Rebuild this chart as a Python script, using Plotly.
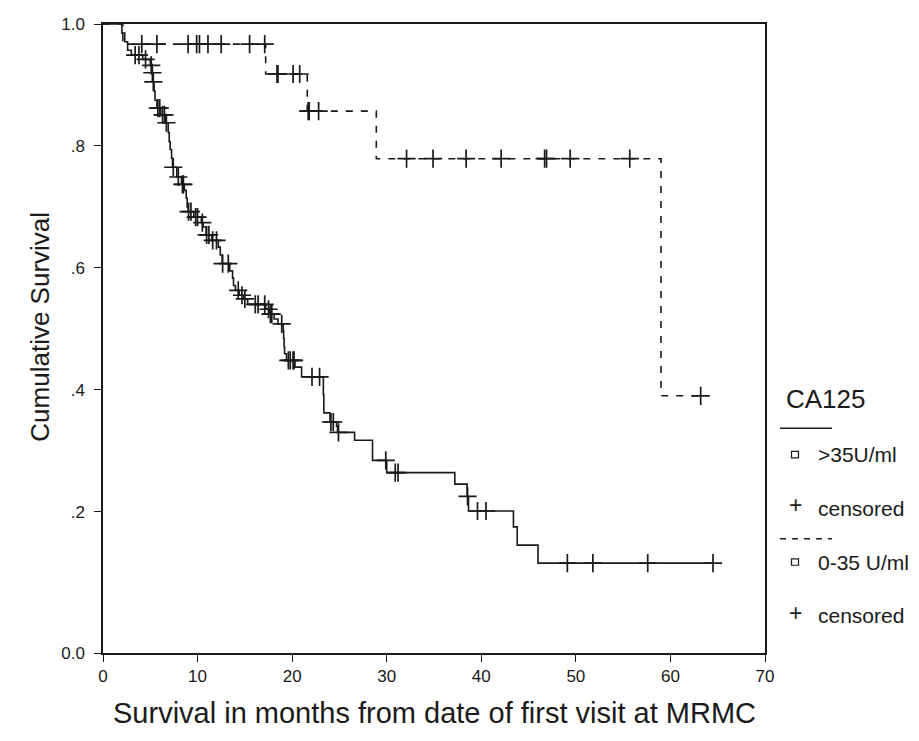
import plotly.graph_objects as go
import bisect

# ---------------- data ----------------
# Group CA125 > 35 U/ml (solid line): event times (months) and survival after each event
hi_event_t = [2.0, 2.3, 2.6, 3.0, 4.2, 5.0, 5.2, 5.3, 5.4, 5.5, 5.7, 6.1, 6.6, 6.9, 7.0, 7.1,
              7.25, 7.35, 7.8, 8.3, 8.6, 8.8, 8.9, 9.0, 9.6, 10.4, 10.6, 10.9, 11.5, 12.2, 12.4,
              12.6, 13.4, 13.7, 13.8, 14.0, 14.4, 14.9, 15.3, 17.2, 17.6, 18.1, 18.5, 19.05, 19.1,
              19.15, 19.2, 19.4, 20.3, 21.0, 23.3, 23.35, 24.0, 24.7, 24.8, 26.6, 28.5, 30.0, 37.2,
              38.5, 38.65, 43.4, 43.8, 46.0]
hi_event_s = [0.985, 0.971, 0.957, 0.949, 0.942, 0.932, 0.920, 0.905, 0.890, 0.875, 0.862, 0.851,
              0.838, 0.822, 0.807, 0.794, 0.780, 0.765, 0.749, 0.737, 0.727, 0.714, 0.700, 0.692,
              0.683, 0.674, 0.667, 0.654, 0.645, 0.634, 0.621, 0.607, 0.595, 0.583, 0.571, 0.563,
              0.555, 0.549, 0.540, 0.532, 0.524, 0.516, 0.508, 0.497, 0.484, 0.470, 0.459, 0.448,
              0.437, 0.421, 0.392, 0.362, 0.347, 0.340, 0.330, 0.317, 0.284, 0.264, 0.245, 0.225,
              0.201, 0.175, 0.145, 0.1155]
hi_censor_t = [3.4, 3.8, 4.5, 5.1, 5.22, 5.32, 5.8, 6.0, 6.3, 6.5, 6.7, 7.43, 7.96, 8.4, 8.5,
               9.05, 9.3, 9.8, 10.0, 10.5, 10.96, 11.2, 11.6, 12.0, 12.65, 13.25, 14.3, 14.7, 15.0,
               16.1, 16.4, 17.1, 17.5, 17.7, 17.85, 18.9, 19.6, 19.8, 20.1, 20.2, 22.1, 22.9,
               24.1, 24.35, 24.9, 29.9, 30.9, 31.2, 38.55, 39.6, 40.5, 49.1, 51.8, 57.6, 64.5]

# Group CA125 0-35 U/ml (dashed line)
lo_event_t = [2.1, 17.2, 21.6, 28.9, 59.0]
lo_event_s = [0.967, 0.918, 0.857, 0.779, 0.390]
lo_censor_t = [4.1, 5.7, 9.0, 9.9, 10.2, 11.1, 12.5, 15.5, 17.1,
               18.4, 18.5, 20.1, 20.8, 21.7, 21.8, 22.8,
               32.1, 34.9, 38.4, 42.1, 46.7, 46.9, 49.4, 55.7, 63.2]

y_axis_bottom = -0.032
y_tick_vals = [y_axis_bottom, 0.2, 0.4, 0.6, 0.8, 1.0]
y_tick_text = ["0.0", ".2", ".4", ".6", ".8", "1.0"]
x_tick_vals = [0, 10, 20, 30, 40, 50, 60, 70]

legend_title = "CA125"
group_labels = [">35U/ml", "0-35 U/ml"]
censor_label = "censored"


def surv_at(t, ev_t, ev_s):
    i = bisect.bisect_right(ev_t, t)
    return 1.0 if i == 0 else ev_s[i - 1]


def step_xy(ev_t, ev_s, t_end):
    xs = [0] + list(ev_t) + [t_end]
    ys = [1.0] + list(ev_s) + [ev_s[-1]]
    return xs, ys


FONT = "Liberation Sans, Arial, sans-serif"
INK = "#1a1a1a"
fig = go.Figure()

hx, hy = step_xy(hi_event_t, hi_event_s, max(hi_censor_t))
lx, ly = step_xy(lo_event_t, lo_event_s, max(lo_censor_t))

fig.add_trace(go.Scatter(x=lx, y=ly, mode="lines",
                         line=dict(shape="hv", color=INK, width=1.6, dash="7px,8px"),
                         showlegend=False, hoverinfo="skip"))
fig.add_trace(go.Scatter(x=hx, y=hy, mode="lines", line=dict(shape="hv", color=INK, width=1.6),
                         showlegend=False, hoverinfo="skip"))

marker = dict(symbol="cross-thin", size=13, line=dict(color=INK, width=1.7))
fig.add_trace(go.Scatter(x=hi_censor_t, y=[surv_at(t, hi_event_t, hi_event_s) for t in hi_censor_t],
                         mode="markers", marker=marker, showlegend=False, hoverinfo="skip"))
fig.add_trace(go.Scatter(x=lo_censor_t, y=[surv_at(t, lo_event_t, lo_event_s) for t in lo_censor_t],
                         mode="markers", marker=marker, showlegend=False, hoverinfo="skip"))

# figure geometry (figure sits at an 8px page offset)
W, H = 911, 733
L, R, T, B = 95, 154, 7, 88
pw, ph = W - L - R, H - T - B


def px(xp):
    return (xp - L) / pw


def py(yp):
    return (H - B - yp) / ph


anns = []
shapes = []
anns.append(dict(text=legend_title, x=px(776), y=py(387), xanchor="left", yanchor="middle", font=dict(size=26)))
shapes.append(dict(type="line", x0=px(772), x1=px(824), y0=py(417), y1=py(417), line=dict(color=INK, width=1.5)))
shapes.append(dict(type="line", x0=px(772), x1=px(824), y0=py(529), y1=py(529),
                   line=dict(color=INK, width=1.5, dash="6px,6px")))
for yy, label in [(444, group_labels[0]), (553, group_labels[1])]:
    shapes.append(dict(type="rect", x0=px(783.5), x1=px(790.5), y0=py(yy - 3.5), y1=py(yy + 3),
                       line=dict(color=INK, width=1.2), fillcolor="white"))
    anns.append(dict(text=label, x=px(808), y=py(yy), xanchor="left", yanchor="middle", font=dict(size=21)))
for yy in [498, 607]:
    anns.append(dict(text="+", x=px(787), y=py(yy - 3), xanchor="center", yanchor="middle", font=dict(size=23)))
    anns.append(dict(text=censor_label, x=px(808), y=py(yy), xanchor="left", yanchor="middle", font=dict(size=21)))
# axis titles
anns.append(dict(text="Survival in months from date of first visit at MRMC", x=px(426), y=py(706),
                 xanchor="center", yanchor="middle", font=dict(size=29)))
anns.append(dict(text="Cumulative Survival", x=px(32), y=py(314), textangle=-90,
                 xanchor="center", yanchor="middle", font=dict(size=26)))
for a in anns:
    a.update(xref="paper", yref="paper", showarrow=False)
    a["font"].update(family=FONT, color=INK)
for s in shapes:
    s.update(xref="paper", yref="paper")

fig.update_layout(
    width=W, height=H,
    margin=dict(l=L, r=R, t=T, b=B),
    paper_bgcolor="white", plot_bgcolor="white",
    font=dict(family=FONT, color=INK),
    annotations=anns, shapes=shapes,
    xaxis=dict(range=[0, 70], tickvals=x_tick_vals, showgrid=False, zeroline=False, showline=True,
               linecolor=INK, linewidth=1.5, mirror=True, ticks="outside", ticklen=7, tickcolor=INK,
               tickfont=dict(size=17)),
    yaxis=dict(range=[y_axis_bottom, 1], tickvals=y_tick_vals, ticktext=y_tick_text, showgrid=False,
               zeroline=False, showline=True, linecolor=INK, linewidth=1.5, mirror=True, ticks="outside",
               ticklen=7, tickcolor=INK, tickfont=dict(size=17), ticklabelstandoff=6,
               ticklabeloverflow="allow"),
)

fig.write_html("out.html")
